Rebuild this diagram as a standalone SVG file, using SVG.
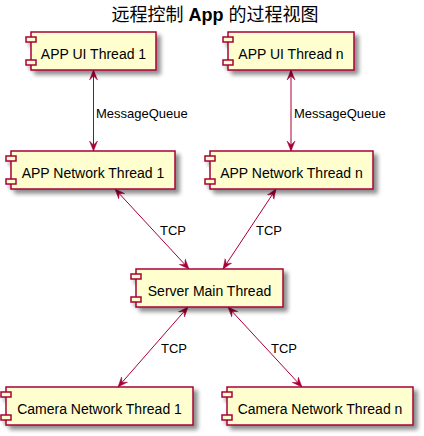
<svg xmlns="http://www.w3.org/2000/svg" width="424" height="436" viewBox="0 0 424 436">
<style>
.box{fill:#FEFECE;stroke:#A80036;stroke-width:1.5}
.lbl{font-family:"Liberation Sans",Arial,sans-serif;font-size:14px;fill:#000;text-anchor:middle}
.el{font-family:"Liberation Sans",Arial,sans-serif;font-size:13px;fill:#000}
.ln{stroke:#A80036;stroke-width:1;fill:none;marker-start:url(#ah);marker-end:url(#ah)}
.title{font-family:"Liberation Sans","Noto Sans CJK SC",sans-serif;font-size:18px;fill:#000;text-anchor:middle}
</style>
<defs>
<filter id="sh" x="-10%" y="-20%" width="130%" height="160%">
<feGaussianBlur in="SourceAlpha" stdDeviation="2"/>
<feOffset dx="4" dy="4" result="b"/>
<feComponentTransfer><feFuncA type="linear" slope="0.45"/></feComponentTransfer>
<feMerge><feMergeNode/><feMergeNode in="SourceGraphic"/></feMerge>
</filter>
<marker id="ah" viewBox="0 0 10 10" refX="10" refY="5" markerWidth="10" markerHeight="10" markerUnits="userSpaceOnUse" orient="auto-start-reverse">
<path d="M0,1 L10,5 L0,9 L4,5 Z" fill="#A80036" stroke="#A80036" stroke-width="0.5"/>
</marker>
</defs>
<rect width="424" height="436" fill="#FFFFFF"/>
<text class="title" x="215" y="21">远程控制 <tspan font-weight="bold">App</tspan> 的过程视图</text>

<g id="connectors">
<line class="ln" x1="93.5" y1="70" x2="93.5" y2="151"/>
<line class="ln" x1="291" y1="70" x2="291" y2="151"/>
<line class="ln" x1="115" y1="189" x2="189" y2="269"/>
<line class="ln" x1="276" y1="189" x2="223" y2="269"/>
<line class="ln" x1="188" y1="307" x2="118" y2="387"/>
<line class="ln" x1="228" y1="307" x2="302" y2="387"/>
<text class="el" x="96" y="118">MessageQueue</text>
<text class="el" x="294" y="118">MessageQueue</text>
<text class="el" x="160" y="235">TCP</text>
<text class="el" x="256" y="235">TCP</text>
<text class="el" x="161" y="353">TCP</text>
<text class="el" x="271" y="353">TCP</text>
</g>

<g id="ui1">
<g filter="url(#sh)">
<rect class="box" x="31" y="32" width="125" height="38"/>
<rect class="box" x="26" y="37" width="10" height="5"/>
<rect class="box" x="26" y="60" width="10" height="5"/>
</g>
<text class="lbl" x="93.5" y="58.5">APP UI Thread 1</text>
</g>

<g id="uin">
<g filter="url(#sh)">
<rect class="box" x="228" y="32" width="126" height="38"/>
<rect class="box" x="223" y="37" width="10" height="5"/>
<rect class="box" x="223" y="60" width="10" height="5"/>
</g>
<text class="lbl" x="291" y="58.5">APP UI Thread n</text>
</g>

<g id="net1">
<g filter="url(#sh)">
<rect class="box" x="11" y="151" width="164" height="38"/>
<rect class="box" x="6" y="156" width="10" height="5"/>
<rect class="box" x="6" y="179" width="10" height="5"/>
</g>
<text class="lbl" x="93" y="177.5">APP Network Thread 1</text>
</g>

<g id="netn">
<g filter="url(#sh)">
<rect class="box" x="210" y="151" width="163" height="38"/>
<rect class="box" x="205" y="156" width="10" height="5"/>
<rect class="box" x="205" y="179" width="10" height="5"/>
</g>
<text class="lbl" x="291.5" y="177.5">APP Network Thread n</text>
</g>

<g id="server">
<g filter="url(#sh)">
<rect class="box" x="136" y="269" width="147" height="38"/>
<rect class="box" x="131" y="274" width="10" height="5"/>
<rect class="box" x="131" y="297" width="10" height="5"/>
</g>
<text class="lbl" x="209.5" y="295.5">Server Main Thread</text>
</g>

<g id="cam1">
<g filter="url(#sh)">
<rect class="box" x="6" y="387" width="187" height="38"/>
<rect class="box" x="1" y="392" width="10" height="5"/>
<rect class="box" x="1" y="415" width="10" height="5"/>
</g>
<text class="lbl" x="99.5" y="413.5">Camera Network Thread 1</text>
</g>

<g id="camn">
<g filter="url(#sh)">
<rect class="box" x="227" y="387" width="186" height="38"/>
<rect class="box" x="222" y="392" width="10" height="5"/>
<rect class="box" x="222" y="415" width="10" height="5"/>
</g>
<text class="lbl" x="320" y="413.5">Camera Network Thread n</text>
</g>
</svg>
